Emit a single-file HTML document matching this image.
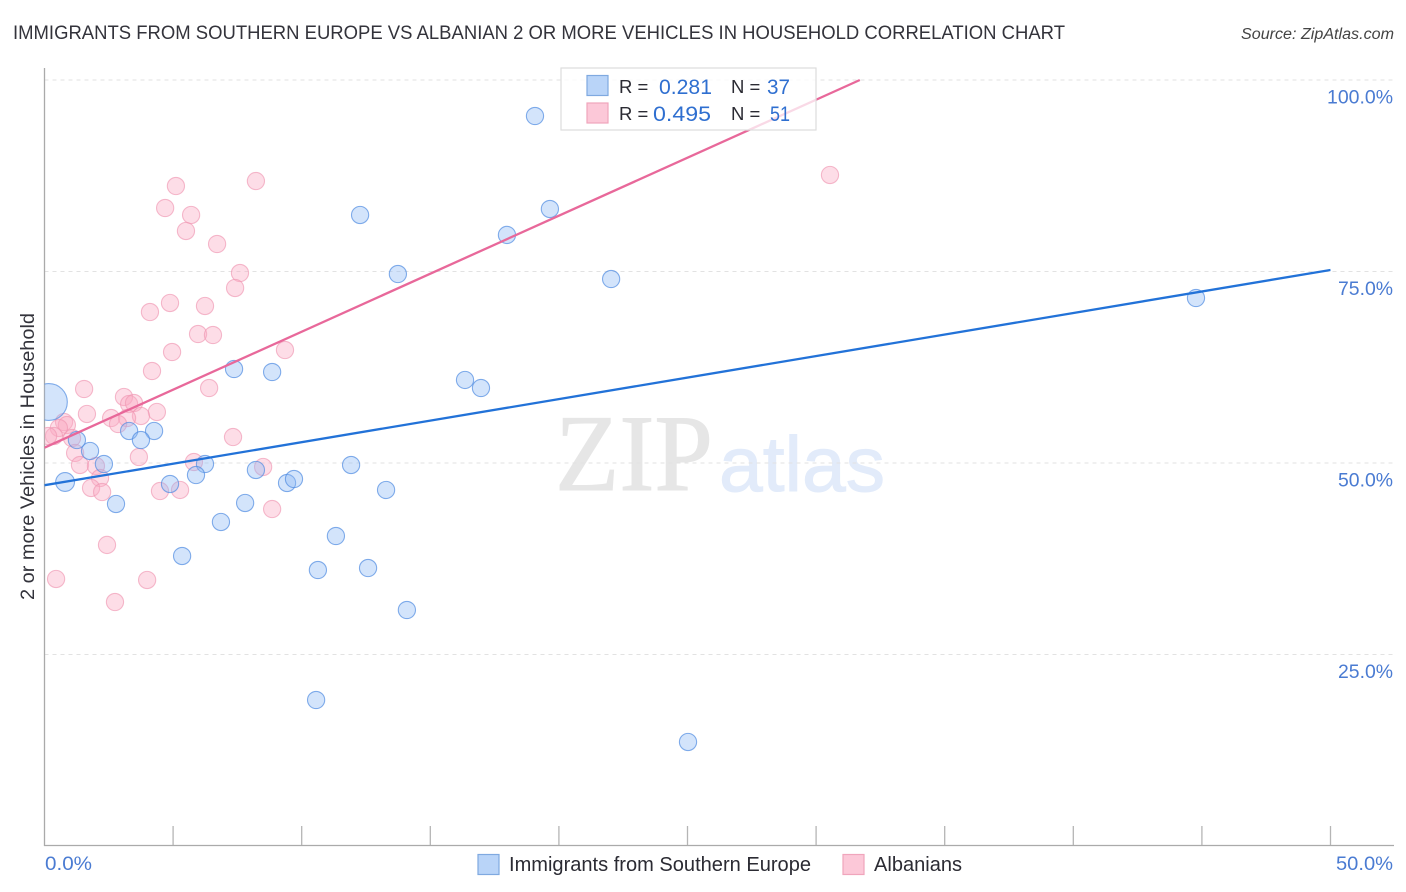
<!DOCTYPE html>
<html lang="en">
<head>
<meta charset="utf-8">
<title>Immigrants from Southern Europe vs Albanian 2 or more Vehicles in Household Correlation Chart</title>
<style>
html,body{margin:0;padding:0;background:#fff;width:1406px;height:892px;overflow:hidden}
svg{display:block;font-family:"Liberation Sans",sans-serif}
</style>
</head>
<body>
<svg id="chart" xmlns="http://www.w3.org/2000/svg" width="1406" height="892" viewBox="0 0 1406 892">
  <defs><clipPath id="plot-clip"><rect x="44.5" y="68" width="1286" height="778"/></clipPath></defs>
  <text x="13" y="39" font-size="19.5" fill="#33333b" textLength="1052" lengthAdjust="spacingAndGlyphs">IMMIGRANTS FROM SOUTHERN EUROPE VS ALBANIAN 2 OR MORE VEHICLES IN HOUSEHOLD CORRELATION CHART</text>
  <text x="1241" y="39" font-size="15.5" font-style="italic" fill="#444" textLength="153" lengthAdjust="spacingAndGlyphs">Source: ZipAtlas.com</text>
  <g>
    <text x="555" y="490" font-family="'Liberation Serif',serif" font-size="109" fill="#e6e6e6" stroke="#e6e6e6" stroke-width="1" textLength="158" lengthAdjust="spacingAndGlyphs">ZIP</text>
    <text x="719" y="491" font-size="78" fill="#e2ebfa" stroke="#e2ebfa" stroke-width="1" textLength="166" lengthAdjust="spacingAndGlyphs">atlas</text>
  </g>
  <g id="grid"></g>
  <g id="x-ticks"></g>
  <line x1="44.5" y1="68" x2="44.5" y2="846" stroke="#aaa" stroke-width="1.3"/>
  <line x1="44" y1="845.5" x2="1394" y2="845.5" stroke="#aaa" stroke-width="1.3"/>
  <g id="points" clip-path="url(#plot-clip)"></g>
  <g id="trends" clip-path="url(#plot-clip)"></g>
  <g id="y-labels"></g>
  <text x="45" y="870" font-size="19" fill="#4a7bd2" textLength="47" lengthAdjust="spacingAndGlyphs">0.0%</text>
  <text x="1336" y="870" font-size="19" fill="#4a7bd2" textLength="57" lengthAdjust="spacingAndGlyphs">50.0%</text>
  <text transform="translate(34,456.5) rotate(-90)" font-size="19.5" fill="#33333b" text-anchor="middle" textLength="287" lengthAdjust="spacingAndGlyphs">2 or more Vehicles in Household</text>
  <g>
    <rect x="561" y="68" width="255" height="62" fill="#fff" fill-opacity="0.75" stroke="#ddd" stroke-width="1.2"/>
    <rect x="587" y="75.5" width="21" height="20" fill="#b9d4f8" stroke="#7fa9e0" stroke-width="1.2"/>
    <rect x="587" y="103" width="21" height="20" fill="#fcc8d8" stroke="#f0a5bc" stroke-width="1.2"/>
    <text x="619" y="93" font-size="18.5" fill="#2b2b33">R =</text>
    <text x="659" y="94" font-size="21" fill="#2f6fd0" textLength="53" lengthAdjust="spacingAndGlyphs">0.281</text>
    <text x="731" y="93" font-size="18.5" fill="#2b2b33">N =</text>
    <text x="767" y="94" font-size="21" fill="#2f6fd0" textLength="23" lengthAdjust="spacingAndGlyphs">37</text>
    <text x="619" y="120" font-size="18.5" fill="#2b2b33">R =</text>
    <text x="653" y="121" font-size="21" fill="#2f6fd0" textLength="58" lengthAdjust="spacingAndGlyphs">0.495</text>
    <text x="731" y="120" font-size="18.5" fill="#2b2b33">N =</text>
    <text x="770" y="121" font-size="21" fill="#2f6fd0" textLength="20" lengthAdjust="spacingAndGlyphs">51</text>
  </g>
  <g>
    <rect x="478" y="854.5" width="21" height="20" fill="#b9d4f8" stroke="#7fa9e0" stroke-width="1.2"/>
    <text x="509" y="871" font-size="20" fill="#2b2b33" textLength="302" lengthAdjust="spacingAndGlyphs">Immigrants from Southern Europe</text>
    <rect x="843" y="854.5" width="21" height="20" fill="#fcc8d8" stroke="#f0a5bc" stroke-width="1.2"/>
    <text x="874" y="871" font-size="20" fill="#2b2b33" textLength="88" lengthAdjust="spacingAndGlyphs">Albanians</text>
  </g>
</svg>
<script>
const yTicks = [100, 75, 50, 25];
const yTickLabels = ['100.0%', '75.0%', '50.0%', '25.0%'];
const xTicks = [5, 10, 15, 20, 25, 30, 35, 40, 45, 50];

const blueX = [0.17,19.07,19.65,17.98,12.27,13.74,22.03,44.77,16.35,16.97,7.37,8.85,3.29,4.26,3.75,1.26,1.77,2.31,0.80,2.78,6.24,5.89,4.88,8.22,9.43,9.70,11.92,13.28,7.80,6.86,11.33,5.35,10.63,12.58,14.09,10.56,25.02];
const blueY = [57.96,95.30,83.16,79.77,82.38,74.67,74.02,71.54,60.84,59.79,62.27,61.88,54.18,54.18,53.00,53.00,51.57,49.87,47.52,44.65,49.87,48.43,47.26,49.09,47.39,47.91,49.74,46.48,44.78,42.30,40.47,37.86,36.03,36.29,30.81,19.06,13.58];
const blueWeight = [4.6,1,1,1,1,1,1,1,1,1,1,1,1,1,1,1,1,1,1.2,1,1,1,1,1,1,1,1,1,1,1,1,1,1,1,1,1,1];

const pinkX = [30.54,8.22,5.11,4.69,5.70,5.50,6.71,7.60,7.41,4.88,6.24,4.10,5.97,6.55,4.96,9.35,4.18,1.54,6.40,3.09,3.29,3.48,4.37,1.65,2.59,3.75,3.21,2.86,0.76,0.87,0.56,0.37,0.14,1.07,1.19,3.67,7.33,8.50,1.38,2.00,5.81,2.16,1.81,2.24,4.49,5.27,8.85,2.43,0.45,3.99,2.74];
const pinkY = [87.60,86.81,86.16,83.29,82.38,80.29,78.59,74.80,72.85,70.89,70.50,69.71,66.84,66.71,64.49,64.75,62.01,59.66,59.79,58.62,57.70,57.83,56.66,56.40,55.87,56.14,55.87,55.09,55.35,54.96,54.57,53.52,53.52,53.26,51.31,50.78,53.39,49.48,49.74,49.61,50.13,48.04,46.74,46.21,46.34,46.48,43.99,39.30,34.86,34.73,31.85];

const blueTrendX = [0, 50];
const blueTrendY = [47.1, 75.2];
const pinkTrendX = [0, 31.7];
const pinkTrendY = [52, 100];

const NS = 'http://www.w3.org/2000/svg';
function xScale(v) { return 44.5 + v * 25.72; }
function yScale(v) { return 846 - v * 7.66; }
function make(tag, attrs, parent) {
  const el = document.createElementNS(NS, tag);
  for (const k in attrs) el.setAttribute(k, attrs[k]);
  parent.appendChild(el);
  return el;
}

const gridG = document.getElementById('grid');
const labelG = document.getElementById('y-labels');
yTicks.forEach(function (t, i) {
  const line = make('line', {x1: 44.5, x2: 1394, y1: yScale(t), y2: yScale(t), stroke: '#e2e2e2', 'stroke-width': 1, 'stroke-dasharray': '4 4'}, gridG);
  
  
  const label = make('text', {x: i === 0 ? 1327 : 1338, y: yScale(t) + 23.5, 'font-size': 19, fill: '#4a7bd2', textLength: i === 0 ? 66 : 55, lengthAdjust: 'spacingAndGlyphs'}, labelG);
  label.textContent = yTickLabels[i];
  
  
});

const tickG = document.getElementById('x-ticks');
xTicks.forEach(function (t) {
  const tick = make('line', {x1: xScale(t), x2: xScale(t), y1: 826, y2: 846, stroke: '#b5b5b5', 'stroke-width': 1.3}, tickG);
  
  
});

const pointG = document.getElementById('points');
pinkX.forEach(function (v, i) {
  const c = make('circle', {cx: xScale(v), cy: yScale(pinkY[i]), r: 8.6, fill: 'rgba(250,170,195,0.4)', stroke: 'rgba(240,150,178,0.65)', 'stroke-width': 1.1}, pointG);
  
  
});
blueX.forEach(function (v, i) {
  const c = make('circle', {cx: xScale(v), cy: yScale(blueY[i]), r: 8.6 * Math.sqrt(blueWeight[i]), fill: 'rgba(140,185,245,0.38)', stroke: 'rgba(80,140,225,0.7)', 'stroke-width': 1.1}, pointG);
  
  
});

const trendG = document.getElementById('trends');
const blueLine = make('line', {x1: xScale(blueTrendX[0]), y1: yScale(blueTrendY[0]), x2: xScale(blueTrendX[1]), y2: yScale(blueTrendY[1]), stroke: '#2272d8', 'stroke-width': 2.3}, trendG);


const pinkLine = make('line', {x1: xScale(pinkTrendX[0]), y1: yScale(pinkTrendY[0]), x2: xScale(pinkTrendX[1]), y2: yScale(pinkTrendY[1]), stroke: '#e8689a', 'stroke-width': 2.3}, trendG);


</script>
</body>
</html>
